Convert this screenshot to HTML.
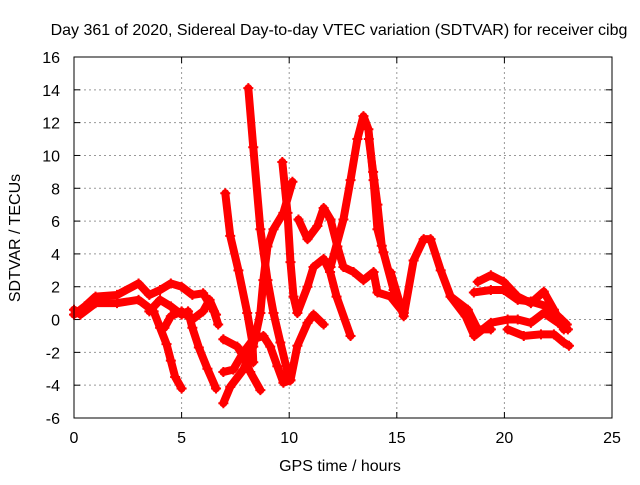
<!DOCTYPE html>
<html><head><meta charset="utf-8"><style>
body{margin:0;background:#fff}
svg text{font-family:"Liberation Sans","DejaVu Sans",sans-serif;font-size:16px;fill:#000}
</style></head><body>
<svg id="chart" width="640" height="480" viewBox="0 0 640 480" xmlns="http://www.w3.org/2000/svg">
<rect x="0" y="0" width="640" height="480" fill="#fff"/>
<text x="339" y="35" text-anchor="middle">Day 361 of 2020, Sidereal Day-to-day VTEC variation (SDTVAR) for receiver cibg</text>
<text x="340" y="471" text-anchor="middle">GPS time / hours</text>
<text transform="translate(20,238) rotate(-90)" text-anchor="middle">SDTVAR / TECUs</text>
<g id="grid"></g>
<g id="ticks"></g>
<g id="series"></g>
<rect x="74" y="57" width="538" height="361" fill="none" stroke="#000" stroke-width="1"/>
</svg>
<script>
const xTicks=[0,5,10,15,20,25];
const yTicks=[-6,-4,-2,0,2,4,6,8,10,12,14,16];
const trackA1=[[0,0.3],[0.5,0.8],[1,1.4],[2,1.5],[3,2.2],[3.5,1.5],[4,1.8],[4.5,2.2],[5,2],[5.5,1.5],[6,1.6],[6.5,0.5],[6.7,-0.3]];
const trackA2=[[0,0.6],[0.3,0.3],[1,1],[2,1],[3,1.2],[3.7,0.5],[4,-0.5],[4.3,-1.5],[4.5,-2.5],[4.7,-3.5],[5,-4.2]];
const trackA3=[[3.5,0.5],[4,1.2],[4.5,0.8],[5,0.3],[5.3,0.5],[5.5,-0.5],[5.8,-1.7],[6.2,-3],[6.6,-4.2]];
const trackA4=[[4.2,-0.5],[4.5,0.2],[5,0.5],[5.5,0],[6,0.5],[6.3,1.2],[6.6,0.3]];
const trackB=[[7.03,7.7],[7.26,5.1],[7.64,3.0],[8.05,0.4],[8.29,-1.4],[8.33,-2.6]];
const trackC=[[8.1,14.1],[8.33,10.5],[8.66,5.5],[8.99,2.4],[9.27,0.4],[9.59,-1.4],[9.92,-3.2],[10.06,-3.7],[10.38,-1.6],[10.85,-0.2],[11.13,0.3],[11.6,-0.3]];
const trackD=[[9.68,9.6],[9.92,6.5],[10.06,3.5],[10.2,1.4],[10.38,0.4],[10.85,2],[11.13,3.2],[11.6,3.7],[11.9,2.9],[12.2,1.4],[12.85,-1]];
const trackE=[[6.94,-5.1],[7.26,-4.1],[7.87,-3.05],[8.33,-1.65],[8.66,0.4],[8.8,2.4],[8.99,4.45],[9.27,5.5],[9.73,6.5],[10.15,8.4]];
const trackE2=[[6.94,-1.2],[7.59,-1.65],[7.87,-2.25],[8.19,-3.2],[8.66,-4.3]];
const trackE3=[[6.94,-3.2],[7.4,-3.05],[7.87,-2],[8.33,-1.2],[8.8,-1],[9.12,-1.65],[9.45,-2.85],[9.73,-3.85],[10.06,-3.7]];
const trackF=[[10.43,6.1],[10.85,4.9],[11.31,5.7],[11.6,6.8],[11.92,6.1],[12.24,4.45],[12.52,3.2],[12.99,2.9],[13.45,2.4],[13.92,2.9],[14.1,1.65],[14.71,1.4],[15.32,0.4]];
const trackG=[[11.92,3.2],[12.52,6.1],[12.85,8.5],[13.17,11],[13.45,12.4],[13.68,11.6],[13.92,8.5],[14.1,5.5],[14.38,4.1],[14.85,1.8],[15.32,0.4]];
const trackG2=[[13.7,11],[13.9,9],[14.1,7],[14.3,4.5]];
const trackH=[[14.71,2.9],[15.32,0.2],[15.78,3.6],[16.25,4.9],[16.57,4.9],[17.04,3.0],[17.5,1.4],[18.3,0.6],[18.76,-0.6],[19.37,-0.6]];
const trackH2=[[17.5,1.4],[18.2,0.2],[18.6,-1],[19.37,-0.2],[20.15,0],[20.62,0],[21.23,-0.2],[21.83,0.4],[22.5,-0.2],[22.95,-0.6]];
const trackS1=[[18.76,2.3],[19.37,2.7],[19.97,2.3],[20.62,1.4],[21.23,1.0],[21.83,1.7],[22.3,0.6],[22.76,-0.6]];
const trackS2=[[18.58,1.65],[19.37,1.8],[19.97,1.8],[20.62,1.2],[21.23,1.1],[22,0.8],[22.5,0.2],[22.9,-0.3]];
const trackS4=[[20.15,-0.6],[20.9,-1],[21.7,-0.9],[22.3,-0.9],[22.76,-1.4],[23,-1.6]];
const tracks=[trackA1,trackA2,trackA3,trackA4,trackB,trackC,trackD,trackE,trackE2,trackE3,trackF,trackG,trackG2,trackH,trackH2,trackS1,trackS2,trackS4];

const X0=74,X1=612,Y0=418,Y1=57,xmin=0,xmax=25,ymin=-6,ymax=16;
const sx=v=>X0+(v-xmin)/(xmax-xmin)*(X1-X0);
const sy=v=>Y0-(v-ymin)/(ymax-ymin)*(Y0-Y1);
const NS="http://www.w3.org/2000/svg";
function mk(tag,attrs,parent){const e=document.createElementNS(NS,tag);for(const k in attrs)e.setAttribute(k,attrs[k]);parent.appendChild(e);return e;}
const grid=document.getElementById('grid'),ticks=document.getElementById('ticks'),series=document.getElementById('series');
xTicks.forEach(t=>{
  const x=sx(t);
  if(t>xmin&&t<xmax){const g=mk('line',{x1:x,x2:x,y1:Y1,y2:Y0,stroke:'#999','stroke-dasharray':'2,3'},grid);
  
  }
  mk('line',{x1:x,x2:x,y1:Y0,y2:Y0-6,stroke:'#000'},ticks);
  mk('line',{x1:x,x2:x,y1:Y1,y2:Y1+6,stroke:'#000'},ticks);
  const l=mk('text',{x:x,y:Y0+25,'text-anchor':'middle'},ticks);l.textContent=t;
  
  
});
yTicks.forEach(t=>{
  const y=sy(t);
  if(t>ymin&&t<ymax){const g=mk('line',{x1:X0,x2:X1,y1:y,y2:y,stroke:'#999','stroke-dasharray':'2,3'},grid);
  
  }
  mk('line',{x1:X0,x2:X0+6,y1:y,y2:y,stroke:'#000'},ticks);
  mk('line',{x1:X1,x2:X1-6,y1:y,y2:y,stroke:'#000'},ticks);
  const l=mk('text',{x:X0-14,y:y+6,'text-anchor':'end'},ticks);l.textContent=t;
  
  
});
tracks.forEach((tr,i)=>{
  const pts=tr.map(p=>sx(p[0])+','+sy(p[1])).join(' ');
  const pl=mk('polyline',{points:pts,fill:'none',stroke:'#f00','stroke-width':8,'stroke-linejoin':'round','stroke-linecap':'round'},series);
  
  
  tr.forEach(p=>{
    const x=sx(p[0]),y=sy(p[1]);
    const m=mk('path',{d:`M${x-5},${y}H${x+5}M${x},${y-5}V${y+5}`,stroke:'#f00','stroke-width':2},series);
    
    
  });
});
</script>
</body></html>
